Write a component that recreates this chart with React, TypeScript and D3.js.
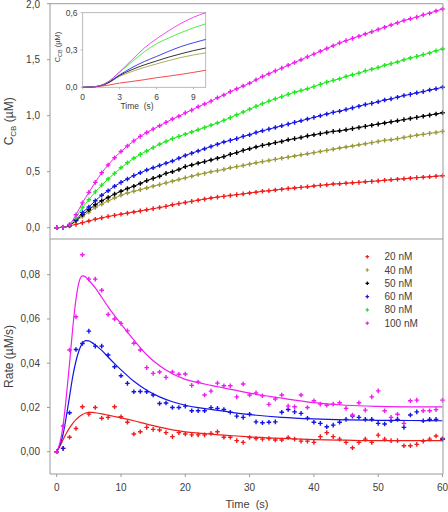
import React from 'react';
import * as d3 from 'd3';

// ---------- data ----------
const TIME = [0,1,2,3,4,5,6,7,8,9,10,11,12,13,14,15,16,17,18,19,20,21,22,23,24,25,26,27,28,29,30,31,32,33,34,35,36,37,38,39,40,41,42,43,44,45,46,47,48,49,50,51,52,53,54,55,56,57,58,59,60];

const SERIES_LABELS = ['20 nM', '40 nM', '50 nM', '60 nM', '80 nM', '100 nM'];
const SERIES_COLORS = ['#f01c1c', '#99993a', '#000000', '#1414e6', '#1ee81e', '#f01cf0'];

// C_CB (uM) vs time, one value per second
const CCB_20 = [0,0.003,0.015,0.03,0.045,0.06,0.075,0.088,0.1,0.11,0.12,0.13,0.14,0.15,0.16,0.17,0.18,0.19,0.205,0.215,0.225,0.235,0.245,0.255,0.265,0.273,0.28,0.288,0.295,0.302,0.31,0.317,0.325,0.33,0.337,0.343,0.35,0.355,0.36,0.366,0.372,0.378,0.384,0.39,0.393,0.397,0.401,0.405,0.41,0.414,0.418,0.423,0.428,0.433,0.437,0.442,0.447,0.451,0.455,0.46,0.464];
const CCB_40 = [0,0.003,0.02,0.06,0.1,0.14,0.18,0.21,0.24,0.265,0.29,0.31,0.325,0.34,0.355,0.37,0.385,0.4,0.415,0.43,0.445,0.46,0.475,0.485,0.5,0.51,0.52,0.535,0.545,0.555,0.568,0.58,0.59,0.6,0.61,0.62,0.63,0.64,0.65,0.66,0.67,0.68,0.69,0.7,0.712,0.72,0.73,0.74,0.75,0.76,0.77,0.78,0.785,0.795,0.805,0.815,0.825,0.833,0.842,0.85,0.86];
const CCB_50 = [0,0.003,0.02,0.065,0.115,0.16,0.205,0.24,0.27,0.3,0.325,0.35,0.37,0.395,0.42,0.44,0.46,0.485,0.5,0.52,0.545,0.56,0.575,0.59,0.605,0.62,0.635,0.655,0.67,0.69,0.705,0.72,0.735,0.745,0.76,0.77,0.785,0.795,0.805,0.82,0.83,0.84,0.85,0.86,0.865,0.875,0.885,0.895,0.905,0.915,0.925,0.935,0.945,0.955,0.965,0.975,0.985,0.995,1.005,1.015,1.027];
const CCB_60 = [0,0.003,0.02,0.07,0.135,0.185,0.24,0.29,0.33,0.37,0.405,0.435,0.465,0.49,0.515,0.535,0.555,0.575,0.595,0.62,0.645,0.665,0.685,0.705,0.725,0.745,0.765,0.78,0.795,0.815,0.83,0.85,0.865,0.88,0.895,0.91,0.925,0.94,0.955,0.97,0.985,1.0,1.015,1.03,1.04,1.055,1.07,1.085,1.1,1.11,1.125,1.14,1.15,1.165,1.18,1.19,1.205,1.215,1.23,1.24,1.254];
const CCB_80 = [0,0.003,0.025,0.09,0.18,0.25,0.32,0.38,0.435,0.485,0.535,0.58,0.62,0.655,0.685,0.715,0.745,0.77,0.795,0.815,0.835,0.855,0.875,0.895,0.915,0.935,0.958,0.983,1.008,1.033,1.058,1.083,1.108,1.13,1.15,1.17,1.19,1.21,1.225,1.24,1.26,1.28,1.3,1.315,1.33,1.35,1.365,1.38,1.4,1.415,1.43,1.45,1.465,1.48,1.5,1.515,1.53,1.545,1.56,1.58,1.595];
const CCB_100 = [0,0.005,0.03,0.115,0.222,0.315,0.405,0.49,0.56,0.625,0.68,0.73,0.775,0.815,0.85,0.88,0.91,0.94,0.97,0.995,1.025,1.05,1.08,1.105,1.13,1.16,1.185,1.215,1.24,1.265,1.29,1.32,1.35,1.375,1.4,1.425,1.45,1.475,1.5,1.525,1.55,1.575,1.6,1.625,1.65,1.67,1.69,1.71,1.73,1.75,1.77,1.79,1.81,1.83,1.85,1.865,1.88,1.9,1.915,1.935,1.953];

// Rate (uM/s) vs time, measured points
const RATE_20 = [0,0.0015,0.0065,0.0105,0.0203,0.017,0.02,0.0151,0.0155,0.0203,0.0158,0.0133,0.008,0.009,0.011,0.0101,0.0098,0.0086,0.0068,0.0086,0.008,0.0076,0.0076,0.0076,0.0083,0.009,0.0065,0.0065,0.005,0.0042,0.0064,0.006,0.0057,0.006,0.0053,0.0053,0.0064,0.0057,0.0048,0.0048,0.0042,0.0068,0.0086,0.0068,0.0057,0.0042,0.0018,0.0042,0.0057,0.0042,0.0075,0.0057,0.005,0.005,0.0027,0.0027,0.0033,0.0048,0.0057,0.0071,0.006];
const RATE_60 = [0,0.0015,0.0176,0.0462,0.0489,0.0545,0.0477,0.0477,0.0437,0.0384,0.0343,0.0309,0.0271,0.0272,0.0271,0.0256,0.0218,0.022,0.02,0.02,0.0206,0.0185,0.0185,0.0185,0.0199,0.0196,0.0191,0.0178,0.0161,0.0155,0.0169,0.0135,0.0131,0.0133,0.0135,0.0178,0.0191,0.018,0.0173,0.0151,0.0133,0.0128,0.0113,0.012,0.0133,0.0146,0.0161,0.0155,0.0146,0.0146,0.0128,0.0125,0.014,0.0146,0.011,0.0166,0.018,0.014,0.0146,0.0146,0.0056];
const RATE_100 = [0,0.0116,0.046,0.061,0.089,0.078,0.078,0.073,0.062,0.06,0.058,0.0546,0.049,0.046,0.038,0.0354,0.036,0.0336,0.036,0.035,0.0351,0.03,0.0315,0.0256,0.0274,0.031,0.0298,0.0298,0.0248,0.0306,0.0256,0.0266,0.0253,0.0214,0.0238,0.0256,0.0206,0.0203,0.0256,0.02,0.023,0.0215,0.021,0.0215,0.0221,0.0196,0.0166,0.0221,0.0188,0.0248,0.0275,0.0185,0.0155,0.0169,0.0128,0.023,0.0233,0.0185,0.0185,0.019,0.0233];

// fitted rate curves
const FIT_T = [0,0.5,1,1.5,2,2.5,3,3.5,4,4.5,5,5.5,6,7,8,9,10,12,14,16,18,20,22,24,26,30,35,40,45,50,55,60];
const FIT_20 = [0,0.0025,0.0055,0.0083,0.0108,0.0128,0.0145,0.0158,0.0168,0.0175,0.0178,0.0178,0.0176,0.0171,0.0165,0.0159,0.0153,0.014,0.0125,0.0111,0.0099,0.009,0.0084,0.0079,0.0075,0.0067,0.006,0.0055,0.0052,0.005,0.005,0.005];
const FIT_60 = [0,0.003,0.008,0.016,0.025,0.034,0.041,0.046,0.049,0.0502,0.0501,0.0493,0.0482,0.0458,0.0428,0.0398,0.037,0.0318,0.0278,0.0248,0.0226,0.021,0.0199,0.0191,0.0183,0.0168,0.0155,0.0148,0.0144,0.0142,0.0141,0.014];
const FIT_100 = [0,0.004,0.012,0.025,0.04,0.056,0.069,0.077,0.0795,0.079,0.0775,0.0758,0.074,0.0698,0.0655,0.0615,0.0578,0.0505,0.0438,0.0388,0.0352,0.0327,0.0312,0.03,0.0288,0.0265,0.0242,0.0222,0.021,0.0205,0.0203,0.0203];

// inset: first 10 s
const INSET_T = [0,1,2,3,4,5,6,7,8,9,10];
const INSET_20 = [0,0.004,0.016,0.034,0.047,0.061,0.077,0.09,0.104,0.12,0.137];
const INSET_40 = [0,0.005,0.03,0.088,0.127,0.16,0.188,0.215,0.24,0.26,0.277];
const INSET_50 = [0,0.005,0.033,0.095,0.142,0.18,0.212,0.243,0.27,0.295,0.316];
const INSET_60 = [0,0.005,0.035,0.1,0.158,0.207,0.248,0.29,0.328,0.358,0.385];
const INSET_80 = [0,0.005,0.04,0.12,0.205,0.285,0.35,0.397,0.44,0.478,0.51];
const INSET_100 = [0,0.005,0.04,0.125,0.22,0.315,0.39,0.455,0.515,0.563,0.6];

const X_TICKS = [0, 10, 20, 30, 40, 50, 60];
const CCB_TICKS = [0, 0.5, 1, 1.5, 2];
const RATE_TICKS = [0, 0.02, 0.04, 0.06, 0.08];
const INSET_X_TICKS = [0, 3, 6, 9];
const INSET_Y_TICKS = [0, 0.3, 0.6];

const CCB_SERIES = [CCB_20, CCB_40, CCB_50, CCB_60, CCB_80, CCB_100];
const INSET_SERIES = [INSET_20, INSET_40, INSET_50, INSET_60, INSET_80, INSET_100];
const RATE_SERIES = [
  { pts: RATE_20, fit: FIT_20, color: 0 },
  { pts: RATE_60, fit: FIT_60, color: 3 },
  { pts: RATE_100, fit: FIT_100, color: 5 },
];

const FONT = '"Liberation Sans", Arial, sans-serif';
const AXIS = '#9a9a9a';
const TXT = '#404040';

const comma = (v: number, d: number) => v.toFixed(d).replace('.', ',');

const Plus = ({ x, y, c, s = 2.3, w = 1.4 }: any) => (
  <path d={`M${x - s},${y}H${x + s}M${x},${y - s}V${y + s}`} stroke={c} strokeWidth={w} fill="none" />
);

export default function App() {
  const W = 448, H = 512;
  const left = 50, right = 443;
  const topY = 3.7, midY = 239, botY = 474;

  const x = d3.scaleLinear().domain([0, 60]).range([56.7, 442.5]);
  const yTop = d3.scaleLinear().domain([0, 2]).range([227.7, 3.7]);
  const yBot = d3.scaleLinear().domain([0, 0.08]).range([451.7, 274.7]);

  const xi = d3.scaleLinear().domain([0, 10]).range([82.7, 205.7]);
  const yi = d3.scaleLinear().domain([0, 0.6]).range([87.3, 12.7]);

  const lineTop = d3.line<number>().x((_, i) => x(TIME[i])).y(d => yTop(d)).curve(d3.curveMonotoneX);
  const lineFit = d3.line<number>().x((_, i) => x(FIT_T[i])).y(d => yBot(d)).curve(d3.curveMonotoneX);
  const lineIn = d3.line<number>().x((_, i) => xi(INSET_T[i])).y(d => yi(d)).curve(d3.curveMonotoneX);

  return (
    <svg width={W} height={H} style={{ position: 'absolute', left: 0, top: 0, background: '#fff' }} fontFamily={FONT}>
      <rect width={W} height={H} fill="#fff" />

      {/* ---------- top panel ---------- */}
      {CCB_SERIES.map((s, k) => (
        <path key={'l' + k} d={lineTop(s) || ''} stroke={SERIES_COLORS[k]} strokeWidth={1} fill="none" />
      ))}
      {CCB_SERIES.map((s, k) => (
        <g key={'m' + k}>
          {s.map((v, i) => <Plus key={i} x={x(TIME[i])} y={yTop(v)} c={SERIES_COLORS[k]} />)}
        </g>
      ))}

      {/* ---------- bottom panel ---------- */}
      {RATE_SERIES.map((s, k) => (
        <path key={'f' + k} d={lineFit(s.fit) || ''} stroke={SERIES_COLORS[s.color]} strokeWidth={1.2} fill="none" />
      ))}
      {RATE_SERIES.map((s, k) => (
        <g key={'r' + k}>
          {s.pts.map((v, i) => <Plus key={i} x={x(TIME[i])} y={yBot(v)} c={SERIES_COLORS[s.color]} />)}
        </g>
      ))}

      {/* frames */}
      <path d={`M${left},${botY}V${topY}H${right}V${botY}H${left}`} stroke={AXIS} strokeWidth={1} fill="none" />
      <line x1={left} x2={right} y1={midY} y2={midY} stroke={AXIS} strokeWidth={1.2} />

      {/* top y ticks */}
      {CCB_TICKS.map(t => (
        <g key={'yt' + t}>
          <line x1={left - 3} x2={left} y1={yTop(t)} y2={yTop(t)} stroke={AXIS} />
          <text x={left - 10} y={Math.max(yTop(t), 4.8)} dy="0.35em" textAnchor="end" fontSize={10} fill={TXT}>{comma(t, 1)}</text>
        </g>
      ))}
      {/* bottom y ticks */}
      {RATE_TICKS.map(t => (
        <g key={'yb' + t}>
          <line x1={left - 3} x2={left} y1={yBot(t)} y2={yBot(t)} stroke={AXIS} />
          <text x={left - 10} y={yBot(t)} dy="0.35em" textAnchor="end" fontSize={10} fill={TXT}>{comma(t, 2)}</text>
        </g>
      ))}
      {/* x ticks */}
      {X_TICKS.map(t => (
        <g key={'xt' + t}>
          <line x1={x(t)} x2={x(t)} y1={botY} y2={botY + 3} stroke={AXIS} />
          <text x={x(t)} y={491} textAnchor="middle" fontSize={10} fill={TXT}>{t}</text>
        </g>
      ))}

      {/* axis titles */}
      <text x={247} y={508} textAnchor="middle" fontSize={11} fill={TXT} style={{ whiteSpace: 'pre' }}>{'Time  (s)'}</text>
      <text transform={`translate(13,${(topY + midY) / 2}) rotate(-90)`} textAnchor="middle" fontSize={12} fill={TXT}>
        C<tspan fontSize={8} dy={3}>CB</tspan><tspan dy={-3}> (µM)</tspan>
      </text>
      <text transform={`translate(13,${(midY + botY) / 2}) rotate(-90)`} textAnchor="middle" fontSize={12} fill={TXT}>Rate (µM/s)</text>

      {/* legend */}
      {SERIES_LABELS.map((lab, k) => (
        <g key={'lg' + k}>
          <Plus x={367.3} y={256.7 + k * 13.3} c={SERIES_COLORS[k]} s={1.8} w={1.2} />
          <text x={384.5} y={256.7 + k * 13.3} dy="0.35em" fontSize={10} fill={TXT}>{lab}</text>
        </g>
      ))}

      {/* ---------- inset ---------- */}
      <rect x={xi(0)} y={yi(0.6)} width={xi(10) - xi(0)} height={yi(0) - yi(0.6)} fill="#fff" stroke="#aaa" strokeWidth={0.8} />
      {INSET_SERIES.map((s, k) => (
        <path key={'in' + k} d={lineIn(s) || ''} stroke={SERIES_COLORS[k]} strokeWidth={0.8} fill="none" />
      ))}
      {INSET_X_TICKS.map(t => (
        <g key={'ix' + t}>
          <line x1={xi(t)} x2={xi(t)} y1={yi(0)} y2={yi(0) + 2} stroke="#aaa" strokeWidth={0.8} />
          <text x={xi(t)} y={99.5} textAnchor="middle" fontSize={8.5} fill={TXT}>{t}</text>
        </g>
      ))}
      {INSET_Y_TICKS.map(t => (
        <g key={'iy' + t}>
          <line x1={xi(0) - 2} x2={xi(0)} y1={yi(t)} y2={yi(t)} stroke="#aaa" strokeWidth={0.8} />
          <text x={77.5} y={yi(t)} dy="0.35em" textAnchor="end" fontSize={8.5} fill={TXT}>{comma(t, 1)}</text>
        </g>
      ))}
      <text x={137} y={108.5} textAnchor="middle" fontSize={8.5} fill={TXT} style={{ whiteSpace: 'pre' }}>{'Time  (s)'}</text>
      <text transform={`translate(60,47) rotate(-90)`} textAnchor="middle" fontSize={7.5} fill={TXT}>
        C<tspan fontSize={5.5} dy={2}>CB</tspan><tspan dy={-2}> (µM)</tspan>
      </text>
    </svg>
  );
}
